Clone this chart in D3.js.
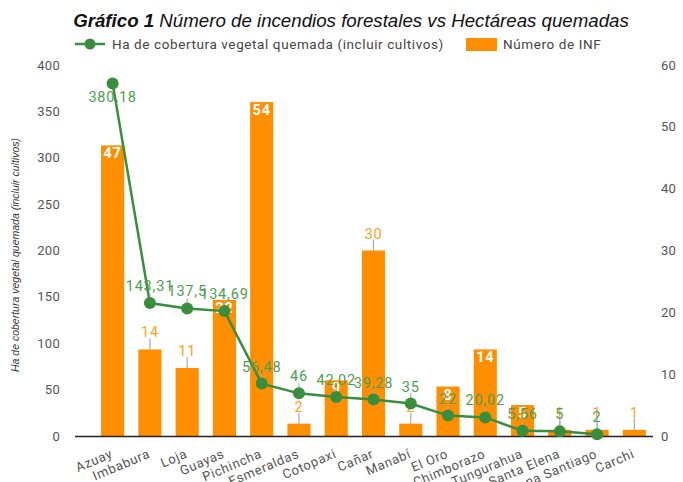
<!DOCTYPE html>
<html>
<head>
<meta charset="utf-8">
<script src="https://cdn.jsdelivr.net/npm/d3@7"></script>
<style>
  body { margin: 0; background: #fff; }
  text { font-family: Roboto, "Liberation Sans", sans-serif; }
</style>
</head>
<body>
<div id="chart"></div>
<script>
// data
const provincias = ["Azuay", "Imbabura", "Loja", "Guayas", "Pichincha", "Esmeraldas", "Cotopaxi",
  "Cañar", "Manabí", "El Oro", "Chimborazo", "Tungurahua", "Santa Elena", "Morona Santiago", "Carchi"];
const numIncendios = [47, 14, 11, 22, 54, 2, 9, 30, 2, 8, 14, 5, 1, 1, 1];
const hectareas = [380.18, 143.31, 137.5, 134.69, 56.48, 46, 42.02, 39.28, 35, 22, 20.02, 5.56, 5, 2, null];
const etiquetasHa = ["380,18", "143,31", "137,5", "134,69", "56,48", "46", "42,02", "39,28", "35", "22", "20,02", "5,56", "5", "2", ""];
// bars whose count label sits inside the bar
const dentro = ["Azuay", "Guayas", "Pichincha", "Cotopaxi", "El Oro", "Chimborazo", "Tungurahua"];
const ticksIzq = [0, 50, 100, 150, 200, 250, 300, 350, 400];
const ticksDer = [0, 10, 20, 30, 40, 50, 60];

const W = 683, H = 482;
const naranja = "#ff8f00", verde = "#388e3c";

const svg = d3.select("#chart").append("svg")
  .attr("width", W).attr("height", H);

const x = d3.scaleBand().domain(provincias).range([94, 653])
  .paddingInner(0.38).paddingOuter(0.19);
const yIzq = d3.scaleLinear().domain([0, 400]).range([436, 65]);
const yDer = d3.scaleLinear().domain([0, 60]).range([436, 65]);

// title
const titulo = svg.append("text")
  .attr("x", 351).attr("y", 27)
  .attr("text-anchor", "middle")
  .style("font-family", "'Liberation Sans', Arial, sans-serif")
  .style("font-size", "18.7px").style("font-style", "italic")
  .attr("fill", "#111");
titulo.append("tspan").style("font-weight", "bold").text("Gráfico 1");
titulo.append("tspan").text(" Número de incendios forestales vs Hectáreas quemadas");

// legend
const leyenda = svg.append("g");
leyenda.append("line").attr("x1", 75).attr("x2", 105).attr("y1", 44).attr("y2", 44)
  .attr("stroke", verde).attr("stroke-width", 2.5);
leyenda.append("circle").attr("cx", 90).attr("cy", 44).attr("r", 5.5).attr("fill", verde);
leyenda.append("text").attr("x", 112).attr("y", 48.5)
  .style("font-size", "13.5px").style("letter-spacing", "0.6px").attr("fill", "#444")
  .text("Ha de cobertura vegetal quemada (incluir cultivos)");
leyenda.append("rect").attr("x", 466).attr("y", 38).attr("width", 31).attr("height", 13)
  .attr("fill", naranja);
leyenda.append("text").attr("x", 503).attr("y", 48.5)
  .style("font-size", "13.5px").style("letter-spacing", "0.6px").attr("fill", "#444").text("Número de INF");

// axes (labels only)
svg.append("g").selectAll("text").data(ticksIzq).join("text")
  .attr("x", 60).attr("y", d => yIzq(d) + 4.5)
  .attr("text-anchor", "end").style("font-size", "13px").style("letter-spacing", "0.3px").attr("fill", "#555")
  .text(d => d);
svg.append("g").selectAll("text").data(ticksDer).join("text")
  .attr("x", 661).attr("y", d => yDer(d) + 4.5)
  .attr("text-anchor", "start").style("font-size", "13px").style("letter-spacing", "0.3px").attr("fill", "#555")
  .text(d => d);

svg.append("text")
  .attr("transform", `translate(19, 255) rotate(-90)`)
  .attr("text-anchor", "middle")
  .style("font-family", "'Liberation Sans Narrow', 'Liberation Sans', sans-serif")
  .style("font-size", "10.5px").style("font-style", "italic").attr("fill", "#333")
  .text("Ha de cobertura vegetal quemada (incluir cultivos)");

// bars
const datos = provincias.map((p, i) => ({ p, n: numIncendios[i], ha: hectareas[i], et: etiquetasHa[i], i }));

svg.append("g").selectAll("rect").data(datos).join("rect")
  .attr("x", d => x(d.p)).attr("width", x.bandwidth())
  .attr("y", d => yDer(d.n)).attr("height", d => yDer(0) - yDer(d.n))
  .attr("fill", naranja);

// baseline
svg.append("line").attr("x1", 75).attr("x2", 653).attr("y1", 436.5).attr("y2", 436.5)
  .attr("stroke", "#222").attr("stroke-width", 1.3);

// bar labels
const fuera = datos.filter(d => !dentro.includes(d.p));
svg.append("g").selectAll("line").data(fuera).join("line")
  .attr("x1", d => x(d.p) + x.bandwidth() / 2).attr("x2", d => x(d.p) + x.bandwidth() / 2)
  .attr("y1", d => yDer(d.n) - 11).attr("y2", d => yDer(d.n))
  .attr("stroke", "#aaa").attr("stroke-width", 1.2);
svg.append("g").selectAll("text").data(fuera).join("text")
  .attr("x", d => x(d.p) + x.bandwidth() / 2).attr("y", d => yDer(d.n) - 12)
  .attr("text-anchor", "middle").style("font-size", "14.5px").style("letter-spacing", "0.8px")
  .attr("fill", "#ffa126")
  .text(d => d.n);
svg.append("g").selectAll("text").data(datos.filter(d => dentro.includes(d.p))).join("text")
  .attr("x", d => x(d.p) + x.bandwidth() / 2).attr("y", d => yDer(d.n) + 13)
  .attr("text-anchor", "middle").style("font-size", "14.5px").style("font-weight", "bold")
  .style("letter-spacing", "0.8px")
  .attr("fill", "#fff").text(d => d.n);

// line
const conHa = datos.filter(d => d.ha !== null);
const cx = d => x(d.p) + x.bandwidth() / 2;
svg.append("path").datum(conHa)
  .attr("d", d3.line().x(cx).y(d => yIzq(d.ha)))
  .attr("fill", "none").attr("stroke", verde).attr("stroke-width", 2.5);

// line label leaders
svg.append("g").selectAll("line").data(conHa.slice(1)).join("line")
  .attr("x1", cx).attr("x2", cx)
  .attr("y1", d => yIzq(d.ha) - 10).attr("y2", d => yIzq(d.ha))
  .attr("stroke", "#aaa").attr("stroke-width", 1.2);

svg.append("g").selectAll("circle").data(conHa).join("circle")
  .attr("cx", cx).attr("cy", d => yIzq(d.ha)).attr("r", 6).attr("fill", verde);

svg.append("g").selectAll("text").data(conHa).join("text")
  .attr("x", cx).attr("y", d => d.i === 0 ? yIzq(d.ha) + 19 : yIzq(d.ha) - 12)
  .attr("text-anchor", "middle").style("font-size", "14.5px").style("letter-spacing", "0.8px")
  .attr("fill", "#4e9e52")
  .text(d => d.et);

// category labels
svg.append("g").selectAll("text").data(datos).join("text")
  .attr("transform", d => `translate(${cx(d) + 1}, 457) rotate(-23)`)
  .attr("text-anchor", "end").style("font-size", "13px").style("letter-spacing", "0.7px")
  .attr("fill", "#555")
  .text(d => d.p);
</script>
</body>
</html>
